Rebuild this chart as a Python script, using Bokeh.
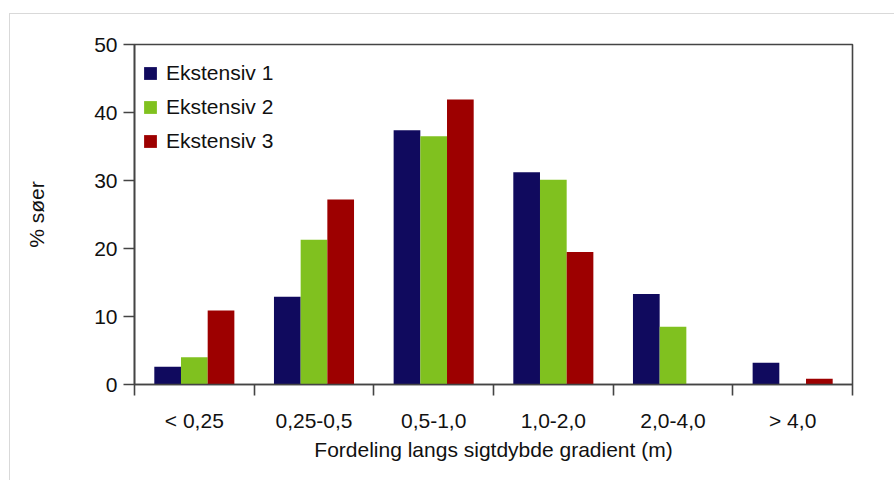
import numpy as np
from bokeh.plotting import figure
from bokeh.models import ColumnDataSource, FixedTicker, Range1d, Legend, LegendItem
from bokeh.embed import file_html
from bokeh.resources import INLINE

categories = ["< 0,25", "0,25-0,5", "0,5-1,0", "1,0-2,0", "2,0-4,0", "> 4,0"]
series_names = ["Ekstensiv 1", "Ekstensiv 2", "Ekstensiv 3"]
ekstensiv1 = [2.6, 12.9, 37.4, 31.2, 13.3, 3.2]
ekstensiv2 = [4.0, 21.3, 36.5, 30.1, 8.5, 0.0]
ekstensiv3 = [10.9, 27.2, 41.9, 19.5, 0.0, 0.85]
y_ticks = [0, 10, 20, 30, 40, 50]
colors = ["#100A5E", "#80C11F", "#9D0000"]

FONT = "Liberation Sans"
FS = "21px"

p = figure(width=885, height=467, output_backend="svg", toolbar_location=None,
           x_range=Range1d(0, len(categories)), y_range=Range1d(0, 50),
           min_border_left=124, min_border_right=43, min_border_top=30, min_border_bottom=97)
p.styles = {"margin-left": "9px", "margin-top": "13px",
            "border-top": "1px solid #d9d9d9", "border-left": "1px solid #d9d9d9"}
p.grid.visible = False
p.outline_line_color = "#444444"
p.outline_line_width = 1.6
p.background_fill_color = "white"
p.border_fill_color = "white"

bw = 0.223
offsets = [-bw, 0.0, bw]
renderers = []
for vals, off, col in zip([ekstensiv1, ekstensiv2, ekstensiv3], offsets, colors):
    xs = np.arange(len(categories)) + 0.5 + off
    src = ColumnDataSource(dict(x=xs, top=vals))
    r = p.vbar(x="x", top="top", width=bw, bottom=0, source=src,
               fill_color=col, line_color=None)
    renderers.append(r)

legend = Legend(items=[LegendItem(label=n, renderers=[r]) for n, r in zip(series_names, renderers)],
                location=(8, 231))
legend.border_line_color = None
legend.background_fill_alpha = 0
legend.padding = 0
legend.margin = 0
legend.glyph_width = 16
legend.glyph_height = 16
legend.label_height = 16
legend.spacing = 10
legend.label_standoff = 8
legend.label_text_font = FONT
legend.label_text_font_size = FS
legend.label_text_color = "#111111"
p.add_layout(legend, "center")

# x axis
xa = p.xaxis[0]
xa.ticker = FixedTicker(ticks=[i + 0.5 for i in range(len(categories))],
                        minor_ticks=list(range(len(categories) + 1)))
xa.major_label_overrides = {i + 0.5: c for i, c in enumerate(categories)}
xa.major_tick_line_color = None
xa.major_tick_out = 11
xa.major_tick_in = 0
xa.minor_tick_line_color = "#444444"
xa.minor_tick_line_width = 1.6
xa.minor_tick_out = 11
xa.minor_tick_in = 0
xa.axis_line_color = "#444444"
xa.axis_line_width = 1.6
xa.major_label_text_font = FONT
xa.major_label_text_font_size = FS
xa.major_label_text_color = "#111111"
xa.major_label_standoff = 13
xa.axis_label = "Fordeling langs sigtdybde gradient (m)"
xa.axis_label_text_font = FONT
xa.axis_label_text_font_size = FS
xa.axis_label_text_font_style = "normal"
xa.axis_label_text_color = "#111111"
xa.axis_label_standoff = 3

# y axis
ya = p.yaxis[0]
ya.ticker = FixedTicker(ticks=y_ticks, minor_ticks=[])
ya.major_tick_line_color = "#444444"
ya.major_tick_line_width = 1.6
ya.major_tick_out = 11
ya.major_tick_in = 0
ya.axis_line_color = "#444444"
ya.axis_line_width = 1.6
ya.major_label_text_font = FONT
ya.major_label_text_font_size = FS
ya.major_label_text_color = "#111111"
ya.major_label_standoff = 6
ya.axis_label = "% søer"
ya.axis_label_text_font = FONT
ya.axis_label_text_font_size = FS
ya.axis_label_text_font_style = "normal"
ya.axis_label_text_color = "#111111"
ya.axis_label_standoff = 43

open("out.html", "w").write(file_html(p, INLINE))
